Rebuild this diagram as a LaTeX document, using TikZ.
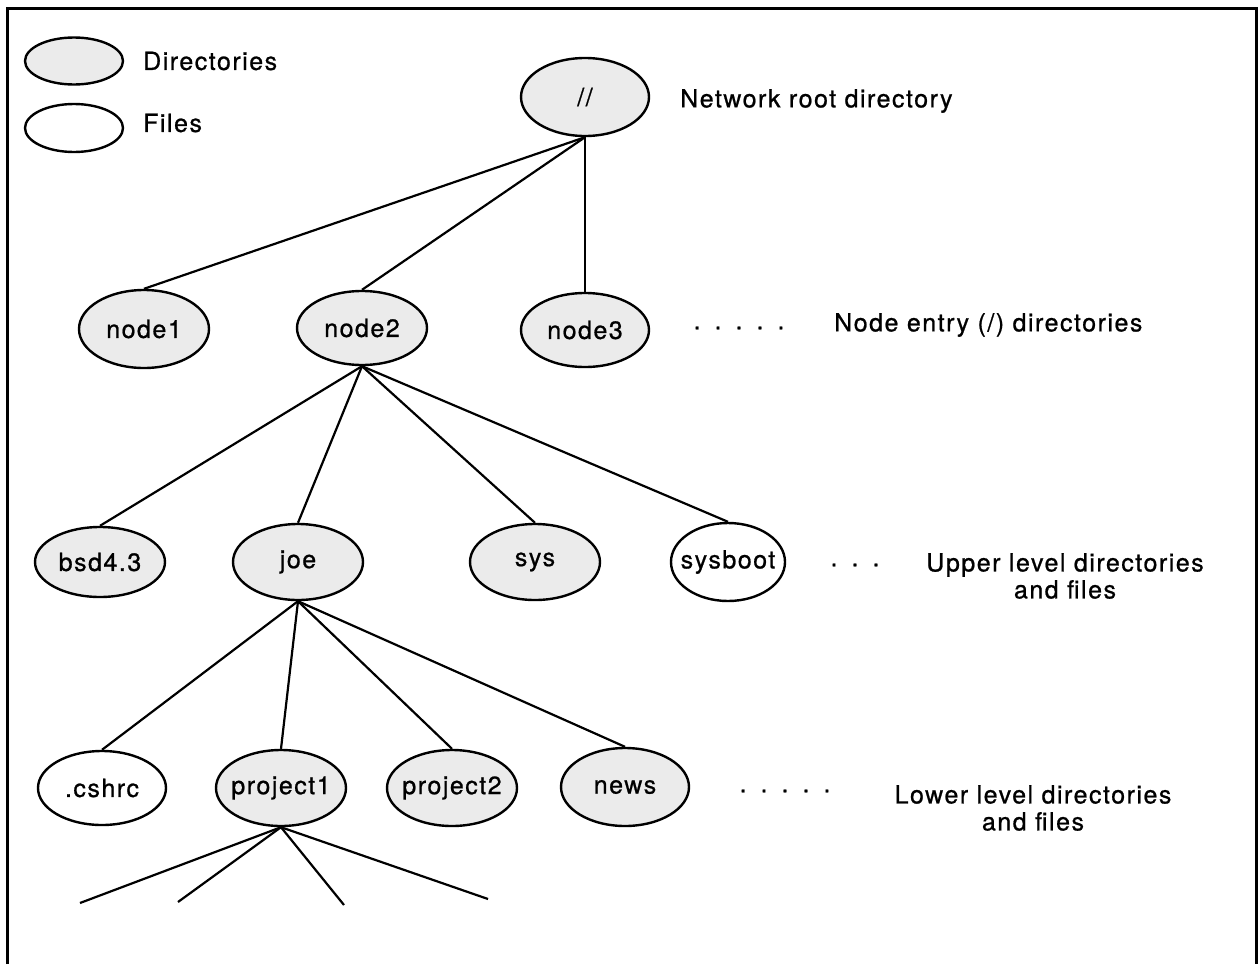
\documentclass[tikz,border=0pt]{standalone}
\usepackage{fontspec}
\setmainfont{TeX Gyre Heros}[LetterSpace=6, FakeBold=0.8]
\usetikzlibrary{shapes.geometric}

\begin{document}
\begin{tikzpicture}[x=1pt,y=-1pt,
  every node/.style={font=\fontsize{25}{27}\selectfont},
  blob/.style={ellipse, draw, line width=2.4pt, inner sep=0pt},
  dir/.style={blob, fill=gray!16},
  file/.style={blob, fill=white},
  sz/.style 2 args={minimum width=#1pt, minimum height=#2pt},
  link/.style={line width=2.2pt},
  note/.style={anchor=west, inner sep=0pt},
]
\useasboundingbox (0,0) rectangle (1258,964);

% frame
\draw[line width=3pt] (7,964) -- (7,8) -- (1256,8) -- (1256,964);

% legend
\node[dir, sz={98}{47}] (legdir) at (74,61) {};
\node[file, sz={98}{48}] (legfile) at (74,128) {};
\node[note] (legdirtxt) at (143,61) {Directories};
\node[note] (legfiletxt) at (143,123) {Files};

% tree
\node[dir, sz={128}{78}, label=center:{//}] (root) at (585,97) {};

\node[dir, sz={130}{78}, label=center:node1] (n1) at (144,329) {};
\node[dir, sz={130}{74}, label=center:node2] (n2) at (362,328) {};
\node[dir, sz={128}{74}, label=center:node3] (n3) at (585,330) {};

\node[dir, sz={130}{70}, label=center:bsd4.3] (bsd) at (100,562) {};
\node[dir, sz={130}{76}, label=center:joe] (joe) at (298,562) {};
\node[dir, sz={130}{76}, label=center:sys] (sys) at (535,562) {};
\node[file, sz={114}{78}, label=center:sysboot] (sysboot) at (728,562) {};

\node[file, sz={128}{74}, label=center:.cshrc] (cshrc) at (102,788) {};
\node[dir, sz={130}{76}, label=center:project1] (p1) at (281,788) {};
\node[dir, sz={130}{76}, label=center:project2] (p2) at (452,788) {};
\node[dir, sz={128}{78}, label=center:news] (news) at (625,787) {};

\coordinate (e1) at (80,903);
\coordinate (e2) at (178,902);
\coordinate (e3) at (344,905);
\coordinate (e4) at (488,899);

\foreach \c in {n1,n2,n3} \draw[link] (root.south) -- (\c.north);
\foreach \c in {bsd,joe,sys,sysboot} \draw[link] (n2.south) -- (\c.north);
\foreach \c in {cshrc,p1,p2,news} \draw[link] (joe.south) -- (\c.north);
\foreach \c in {e1,e2,e3,e4} \draw[link] (p1.south) -- (\c);

% level notes
\node[note] (rootnote) at (680,101) {Network root directory};
\node (dots1) at (739,328) {.\hspace{14pt}.\hspace{14pt}.\hspace{14pt}.\hspace{14pt}.};
\node[note] (n1note) at (834,325) {Node entry (/) directories};
\node (dots2) at (855,565) {.\hspace{14pt}.\hspace{14pt}.};
\node[align=center, inner sep=0pt] (uppernote) at (1065,576) {Upper level directories\\and files};
\node (dots3) at (785,791) {.\hspace{14pt}.\hspace{14pt}.\hspace{14pt}.\hspace{14pt}.};
\node[align=center, inner sep=0pt] (lowernote) at (1033,808) {Lower level directories\\and files};
\end{tikzpicture}
\end{document}
